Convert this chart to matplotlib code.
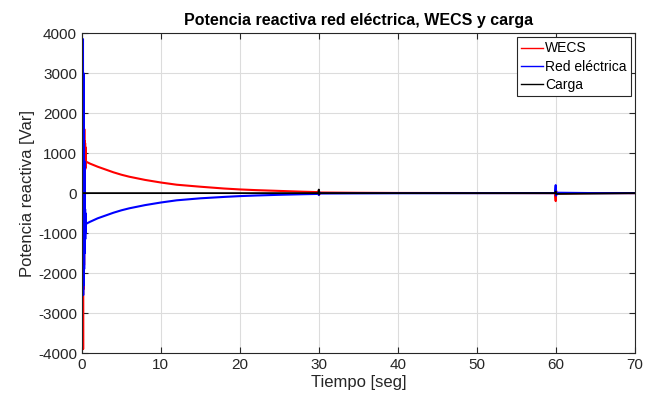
import matplotlib
matplotlib.use('Agg')
import matplotlib.pyplot as plt

plt.rcParams['font.family'] = ['Liberation Sans', 'DejaVu Sans']
plt.rcParams['axes.unicode_minus'] = False
plt.rcParams['path.simplify'] = False

# Tiempo [seg] and reactive power [Var]
t_wecs = [0.0, 0.12, 0.16, 0.19, 0.22, 0.25, 0.28, 0.31, 0.34, 0.37, 0.39,
          0.41, 0.43, 0.45, 0.47, 0.49, 0.52, 0.6, 1.0, 2.0, 3.0, 4.0, 5.0,
          6.0, 8.0, 10.0, 12.0, 15.0, 18.0, 20.0, 22.0, 25.0, 28.0, 29.95,
          30.0, 30.05, 30.1, 35.0, 40.0, 45.0, 50.0, 55.0, 59.9, 60.0, 60.05,
          60.15, 65.0, 70.0]
q_wecs = [0, 0, -3900, 2600, -2400, 2100, -1800, 1600, -900, 1300, 550,
          1250, 600, 1150, 650, 950, 800, 780, 740, 660, 590, 520, 460,
          410, 330, 265, 210, 160, 115, 92, 75, 55, 35, 25,
          70, -40, 15, 8, 4, 3, 2, 1, 0, -200, 60,
          -10, 0, 0]

t_red = [0.0, 0.1, 0.14, 0.17, 0.2, 0.23, 0.26, 0.29, 0.32, 0.35, 0.37,
         0.39, 0.41, 0.43, 0.45, 0.47, 0.52, 0.6, 1.0, 2.0, 3.0, 4.0, 5.0,
         6.0, 8.0, 10.0, 12.0, 15.0, 18.0, 20.0, 22.0, 25.0, 28.0, 29.95,
         30.0, 30.05, 30.1, 35.0, 40.0, 45.0, 50.0, 55.0, 59.9, 60.0, 60.05,
         60.15, 65.0, 70.0]
q_red = [0, 0, 3850, -2550, 3000, -2300, 2000, -1900, 800, -1500, -300,
         -1300, -400, -1150, -500, -1000, -780, -760, -720, -630, -560, -490, -430,
         -380, -300, -235, -180, -130, -95, -75, -60, -42, -28, -20,
         -50, 35, -10, -6, -3, -2, -1, 0, 0, 200, -60,
         10, 0, 0]

t_carga = [0.0, 29.95, 30.0, 30.05, 30.1, 59.95, 60.0, 60.05, 70.0]
q_carga = [0, 0, 90, -30, 0, 0, 40, -20, 0]

fig = plt.figure(figsize=(6.55, 3.99), dpi=100)
ax = fig.add_axes([0.125, 0.115, 0.844, 0.802])

ax.plot(t_wecs, q_wecs, color='#ff0000', lw=1.5, label='WECS')
ax.plot(t_red, q_red, color='#0000ff', lw=1.5, label='Red eléctrica')
ax.plot(t_carga, q_carga, color='black', lw=1.3, label='Carga')

ax.set_xlim(0, 70)
ax.set_ylim(-4000, 4000)
ax.set_xticks(range(0, 71, 10))
ax.set_yticks(range(-4000, 4001, 1000))
ax.grid(True, color='#dcdcdc', lw=0.8)
ax.set_axisbelow(True)
for s in ax.spines.values():
    s.set_color('#262626')
    s.set_linewidth(0.8)
ax.tick_params(direction='in', length=4, labelsize=11, colors='#262626',
               top=True, right=True, labeltop=False, labelright=False)

ax.set_title('Potencia reactiva red eléctrica, WECS y carga',
             fontsize=11.5, fontweight='bold', pad=6)
ax.set_xlabel('Tiempo [seg]', fontsize=12, color='#262626', labelpad=2)
ax.set_ylabel('Potencia reactiva [Var]', fontsize=12, color='#262626', labelpad=2)

leg = ax.legend(loc='upper right', fontsize=10, handlelength=1.6,
                handletextpad=0.1, borderpad=0.3, labelspacing=0.3,
                fancybox=False, framealpha=1, borderaxespad=0.3)
leg.get_frame().set_edgecolor('#262626')
leg.get_frame().set_linewidth(0.8)
for h in leg.get_lines():
    h.set_linewidth(1.0)

fig.savefig('out.png', dpi=100)
